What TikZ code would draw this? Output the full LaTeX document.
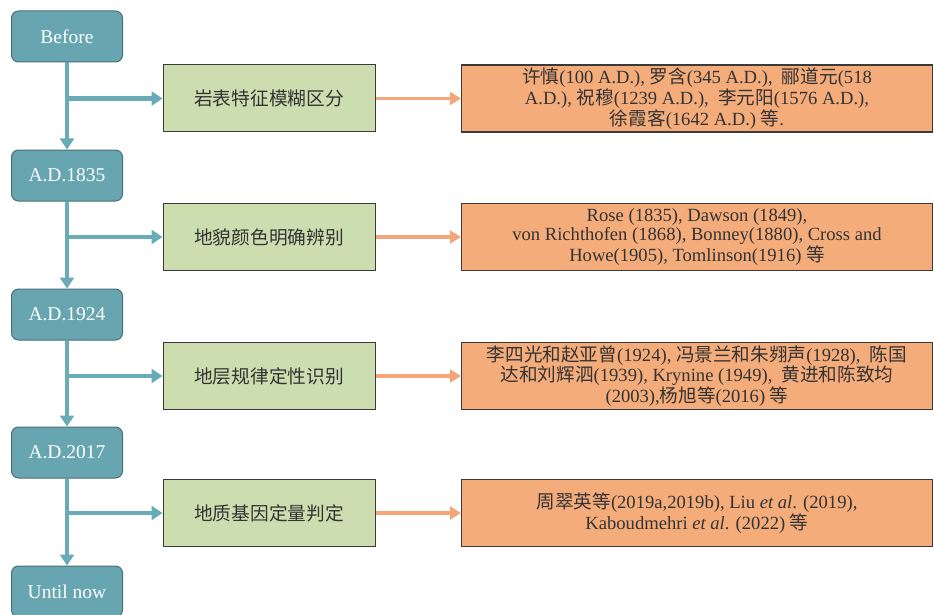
\documentclass[tikz,border=0pt]{standalone}
\usepackage{fontspec}
\setmainfont{Liberation Serif}
\newfontfamily\cjk{Noto Sans CJK SC}
\newcommand{\zh}[1]{{\cjk #1}}
\usetikzlibrary{arrows.meta}
\definecolor{tealf}{HTML}{67A6B1}
\definecolor{tealb}{HTML}{4B6F78}
\definecolor{tealline}{HTML}{6AABB8}
\definecolor{greenf}{HTML}{CCDDAF}
\definecolor{orangef}{HTML}{F4AC7B}
\definecolor{orangeline}{HTML}{F5A679}
\definecolor{boxline}{HTML}{3A3A3A}
\definecolor{txt}{HTML}{333333}
\begin{document}
\begin{tikzpicture}[x=1pt,y=-1pt,
  tealbox/.style={draw=tealb,line width=1pt,fill=tealf,rounded corners=7pt,minimum width=111pt,minimum height=51pt,inner sep=0pt,text=white,font=\fontsize{19.5}{21}\selectfont},
  greenbox/.style={draw=boxline,line width=1pt,fill=greenf,minimum width=212pt,minimum height=67pt,inner sep=0pt,text=txt,font=\fontsize{18.7}{20}\selectfont},
  orangebox/.style={draw=boxline,line width=1.2pt,fill=orangef,minimum width=471pt,minimum height=67pt,inner sep=0pt,text=txt,align=center,font=\fontsize{18.6}{19.5}\selectfont},
  tealarrow/.style={draw=tealline,line width=4.5pt,-{Triangle[length=11pt,width=14pt]}},
  orangearrow/.style={draw=orangeline,line width=3.5pt,-{Triangle[length=11pt,width=13pt]}}
]
\useasboundingbox (0,0) rectangle (934,615);
% timeline boxes
\node[tealbox] (t0) at (67,36.5) {Before};
\node[tealbox] (t1) at (67,175.5) {A.D.1835};
\node[tealbox] (t2) at (67,314.5) {A.D.1924};
\node[tealbox] (t3) at (67,452.5) {A.D.2017};
\node[tealbox] (t4) at (67,591.5) {Until now};
% green boxes
\node[greenbox] (g1) at (269,98.5) {\zh{岩表特征模糊区分}};
\node[greenbox] (g2) at (269,237) {\zh{地貌颜色明确辨别}};
\node[greenbox] (g3) at (269,376) {\zh{地层规律定性识别}};
\node[greenbox] (g4) at (269,513) {\zh{地质基因定量判定}};
% orange boxes
\node[orangebox] (o1) at (697,98.5) {\zh{许慎}(100 A.D.), \zh{罗含}(345 A.D.),\enspace\zh{郦道元}(518\\A.D.), \zh{祝穆}(1239 A.D.),\enspace\zh{李元阳}(1576 A.D.),\\\zh{徐霞客}(1642 A.D.) \zh{等}.};
\node[orangebox] (o2) at (697,237) {Rose (1835), Dawson (1849),\\von Richthofen (1868), Bonney(1880), Cross and\\Howe(1905), Tomlinson(1916) \zh{等}};
\node[orangebox] (o3) at (697,376) {\zh{李四光和赵亚曾}(1924), \zh{冯景兰和朱翙声}(1928),\enspace\zh{陈国}\\\zh{达和刘辉泗}(1939), Krynine (1949),\enspace\zh{黄进和陈致均}\\(2003),\zh{杨旭等}(2016) \zh{等}};
\node[orangebox] (o4) at (697,513) {\zh{周翠英等}(2019a,2019b), Liu \textit{et al}. (2019),\\Kaboudmehri \textit{et al}. (2022) \zh{等}};
% junctions
\coordinate (j1) at (67,98.5);
\coordinate (j2) at (67,237);
\coordinate (j3) at (67,376);
\coordinate (j4) at (67,513);
% timeline connectors
\draw[tealarrow] (t0) -- (t1);
\draw[tealarrow] (t1) -- (t2);
\draw[tealarrow] (t2) -- (t3);
\draw[tealarrow] (t3) -- (t4);
% branches
\draw[tealarrow] (j1) -- (g1);
\draw[tealarrow] (j2) -- (g2);
\draw[tealarrow] (j3) -- (g3);
\draw[tealarrow] (j4) -- (g4);
% orange connectors
\draw[orangearrow] (g1) -- (o1);
\draw[orangearrow] (g2) -- (o2);
\draw[orangearrow] (g3) -- (o3);
\draw[orangearrow] (g4) -- (o4);
\end{tikzpicture}
\end{document}
